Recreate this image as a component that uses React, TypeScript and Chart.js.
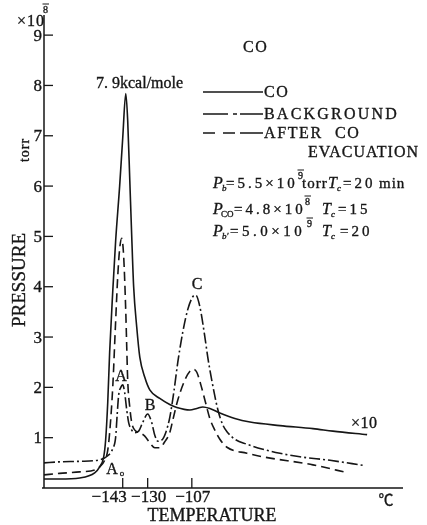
import React, { useEffect, useRef } from "react";
import { Chart, registerables } from "chart.js";

Chart.register(...registerables);

// ---- data (temperature in °C, pressure in 1e-8 torr) ----
const coTemp = [-184, -175.9, -165.4, -157.6, -155.0, -152.9, -151.9, -150.8, -149.8, -148.2, -146.7, -144.6, -143.0, -141.4, -140.4, -139.3, -138.3, -137.3, -135.7, -134.1, -131.5, -128.9, -123.7, -118.5, -114.8, -108.0, -104.4, -101.3, -97.6, -92.4, -84.6, -76.7, -61.1, -43.9, -33.5, -15.7];
const coPressure = [0.18, 0.18, 0.2, 0.3, 0.42, 0.62, 0.95, 1.7, 2.7, 3.9, 4.9, 6.0, 6.95, 7.84, 7.3, 6.1, 5.0, 4.0, 3.2, 2.6, 2.2, 1.95, 1.78, 1.66, 1.6, 1.55, 1.58, 1.61, 1.58, 1.49, 1.38, 1.31, 1.24, 1.18, 1.13, 1.06];

const bgTemp = [-184, -175.9, -165.4, -155.0, -150.8, -148.2, -146.7, -145.9, -145.1, -144.0, -143.0, -142.0, -140.9, -139.9, -138.3, -136.7, -134.7, -132.6, -130.0, -127.9, -126.3, -124.7, -122.7, -120.6, -118.5, -116.4, -114.3, -111.7, -109.1, -106.5, -104.9, -102.8, -100.2, -98.7, -96.6, -93.4, -90.8, -88.7, -84.6, -78.3, -70.0, -61.1, -50.7, -35.0, -17.8];
const bgPressure = [0.5, 0.52, 0.53, 0.56, 0.64, 0.78, 1.0, 1.45, 1.85, 2.0, 2.05, 1.9, 1.55, 1.3, 1.15, 1.1, 1.13, 1.3, 1.47, 1.3, 1.05, 0.93, 0.95, 1.1, 1.4, 1.9, 2.5, 3.1, 3.55, 3.8, 3.83, 3.6, 3.0, 2.6, 2.14, 1.55, 1.25, 1.12, 0.97, 0.87, 0.77, 0.69, 0.62, 0.55, 0.45];

const afterTemp = [-184, -175.9, -165.4, -157.6, -155.0, -152.4, -150.8, -149.8, -148.2, -146.7, -145.6, -144.6, -143.5, -142.5, -141.4, -140.9, -140.4, -139.3, -138.3, -136.7, -134.1, -131.5, -128.9, -126.3, -123.7, -121.1, -118.5, -116.9, -114.3, -110.7, -108.0, -106.0, -104.4, -102.3, -100.2, -97.6, -95.0, -92.4, -88.7, -78.3, -70.0, -43.9, -25.6];
const afterPressure = [0.26, 0.29, 0.32, 0.36, 0.42, 0.55, 0.75, 1.1, 2.0, 3.3, 4.2, 4.75, 4.96, 4.6, 3.5, 2.8, 2.14, 1.6, 1.3, 1.15, 1.1, 1.03, 0.9, 0.8, 0.8, 0.92, 1.1, 1.35, 1.75, 2.14, 2.32, 2.36, 2.3, 2.05, 1.75, 1.38, 1.15, 0.97, 0.81, 0.69, 0.62, 0.46, 0.3];

const yTicks = [1, 2, 3, 4, 5, 6, 7, 8, 9];
const xTicks = [-143, -130, -107];
const xTickLabels = ["−143", "−130", "−107"];
const seriesNames = ["CO", "BACKGROUND", "AFTER", "CO", "EVACUATION"];

const SERIF = '"Liberation Serif", "DejaVu Serif", serif';
const INK = "#161616";

function pts(t: number[], p: number[]) {
  return t.map((x, i) => ({ x, y: p[i] }));
}

function txt(ctx: CanvasRenderingContext2D, s: string, x: number, y: number, size: number, o: any = {}) {
  ctx.font = `${o.italic ? "italic " : ""}${size}px ${o.family || SERIF}`;
  ctx.textAlign = o.align || "left";
  ctx.textBaseline = o.baseline || "alphabetic";
  (ctx as any).letterSpacing = `${o.sp || 0}px`;
  ctx.fillText(s, x, y);
  // light stroke to imitate the heavier printed type
  ctx.lineWidth = 0.35;
  ctx.strokeText(s, x, y);
  (ctx as any).letterSpacing = "0px";
}

// superscript with an over-bar (old notation for a negative exponent)
function barExp(ctx: CanvasRenderingContext2D, d: string, x: number, y: number) {
  txt(ctx, d, x, y, 10);
  ctx.beginPath();
  ctx.lineWidth = 1;
  ctx.moveTo(x - 0.5, y - 9);
  ctx.lineTo(x + 6, y - 9);
  ctx.stroke();
}

const overlay = {
  id: "overlay",
  afterDraw(chart: any) {
    const ctx: CanvasRenderingContext2D = chart.ctx;
    const ca = chart.chartArea;
    const xs = chart.scales.x;
    const ys = chart.scales.y;
    ctx.save();
    ctx.fillStyle = INK;
    ctx.strokeStyle = INK;
    ctx.setLineDash([]);

    // axes
    ctx.lineWidth = 1.5;
    ctx.beginPath();
    ctx.moveTo(ca.left, ca.top);
    ctx.lineTo(ca.left, ca.bottom);
    ctx.moveTo(ca.left - 2, ca.bottom);
    ctx.lineTo(ca.right, ca.bottom);
    ctx.stroke();

    // y ticks (inward)
    yTicks.forEach((v) => {
      const py = ys.getPixelForValue(v);
      ctx.lineWidth = 1.3;
      ctx.beginPath();
      ctx.moveTo(ca.left, py);
      ctx.lineTo(ca.left + 9, py);
      ctx.stroke();
      txt(ctx, String(v), ca.left - 2, py + 1, 17, { align: "right", baseline: "middle" });
    });

    // x ticks (inward)
    xTicks.forEach((v, i) => {
      const px = xs.getPixelForValue(v);
      ctx.lineWidth = 1.3;
      ctx.beginPath();
      ctx.moveTo(px, ca.bottom);
      ctx.lineTo(px, ca.bottom - 10);
      ctx.stroke();
      if (i === 0) txt(ctx, xTickLabels[i], px + 4, ca.bottom + 10, 17, { align: "right", baseline: "middle" });
      else txt(ctx, xTickLabels[i], px + 1, ca.bottom + 10, 17, { align: "center", baseline: "middle" });
    });

    // unit / axis titles
    txt(ctx, "×10", 17, 26, 16, { sp: 1 });
    barExp(ctx, "8", 43, 13);
    txt(ctx, "℃", 386, ca.bottom + 11, 15, { align: "center", baseline: "middle", family: '"Noto Sans CJK JP", ' + SERIF });
    txt(ctx, "TEMPERATURE", 212, 516, 18, { align: "center", baseline: "middle" });

    ctx.save();
    ctx.translate(20, 280);
    ctx.rotate(-Math.PI / 2);
    txt(ctx, "PRESSURE", 0, 0, 19, { align: "center", baseline: "middle" });
    ctx.restore();
    ctx.save();
    ctx.translate(25, 150);
    ctx.rotate(-Math.PI / 2);
    txt(ctx, "torr", 0, 0, 14, { align: "center", baseline: "middle", sp: 1 });
    ctx.restore();

    // title and peak annotation
    txt(ctx, "CO", 243, 52, 16, { sp: 1.5 });
    txt(ctx, "7. 9kcal/mole", 96, 88, 16, { sp: 0 });

    // legend
    ctx.lineWidth = 1.6;
    const lx0 = 203, lx1 = 263;
    ctx.setLineDash([]);
    ctx.beginPath(); ctx.moveTo(lx0, 92); ctx.lineTo(lx1, 92); ctx.stroke();
    ctx.setLineDash([25, 5, 4, 3, 23]);
    ctx.beginPath(); ctx.moveTo(lx0, 114); ctx.lineTo(lx1, 114); ctx.stroke();
    ctx.setLineDash([12, 8, 12, 5, 23]);
    ctx.beginPath(); ctx.moveTo(lx0, 133); ctx.lineTo(lx1, 133); ctx.stroke();
    ctx.setLineDash([]);
    txt(ctx, seriesNames[0], 264, 97, 16, { sp: 1.5 });
    txt(ctx, seriesNames[1], 264, 119, 16, { sp: 2.2 });
    txt(ctx, seriesNames[2], 264, 138, 16, { sp: 1.6 });
    txt(ctx, seriesNames[3], 335, 138, 16, { sp: 1.5 });
    txt(ctx, seriesNames[4], 308, 157, 16, { sp: 1 });

    // measurement conditions
    // line 1
    txt(ctx, "P", 213, 188, 16, { italic: true });
    txt(ctx, "b", 222, 191, 9, { italic: true });
    txt(ctx, "=5.5×10", 226, 188, 15, { sp: 3 });
    barExp(ctx, "9", 298, 179);
    txt(ctx, "torr", 302, 188, 15, { sp: 1 });
    txt(ctx, "T", 328, 188, 16, { italic: true });
    txt(ctx, "c", 337, 191, 9, { italic: true });
    txt(ctx, "=20", 343, 188, 15, { sp: 3 });
    txt(ctx, "min", 379, 188, 15, { sp: 1 });
    // line 2
    txt(ctx, "P", 213, 214, 16, { italic: true });
    txt(ctx, "CO", 221, 217, 9);
    txt(ctx, "=4.8×10", 234, 214, 15, { sp: 3 });
    barExp(ctx, "8", 305, 205);
    txt(ctx, "T", 322, 214, 16, { italic: true });
    txt(ctx, "c", 331, 217, 9, { italic: true });
    txt(ctx, "=15", 338, 214, 15, { sp: 3 });
    // line 3
    txt(ctx, "P", 213, 236, 16, { italic: true });
    txt(ctx, "b′", 222, 239, 9, { italic: true });
    txt(ctx, "=5.0×10", 230, 236, 15, { sp: 3.5 });
    barExp(ctx, "9", 307, 227);
    txt(ctx, "T", 322, 236, 16, { italic: true });
    txt(ctx, "c", 331, 239, 9, { italic: true });
    txt(ctx, "=20", 340, 236, 15, { sp: 3 });

    // peak labels
    txt(ctx, "C", 197, 285, 16, { align: "center", baseline: "middle" });
    txt(ctx, "A", 121, 377, 16, { align: "center", baseline: "middle" });
    txt(ctx, "B", 150, 406, 16, { align: "center", baseline: "middle" });
    txt(ctx, "A", 112, 470, 16, { align: "center", baseline: "middle" });
    txt(ctx, "o", 122, 474, 9, { align: "center", baseline: "middle" });
    txt(ctx, "×10", 351, 428, 16, { sp: 0.5 });

    ctx.restore();
  },
};

export default function App() {
  const ref = useRef<HTMLCanvasElement | null>(null);
  useEffect(() => {
    if (!ref.current) return;
    const common = {
      borderColor: INK,
      borderWidth: 1.6,
      pointRadius: 0,
      fill: false,
      cubicInterpolationMode: "monotone" as const,
    };
    const chart = new Chart(ref.current, {
      type: "line",
      data: {
        datasets: [
          { ...common, label: seriesNames[0], data: pts(coTemp, coPressure) },
          { ...common, label: seriesNames[1], data: pts(bgTemp, bgPressure), borderDash: [11, 3, 2, 3] },
          { ...common, label: "AFTER CO EVACUATION", data: pts(afterTemp, afterPressure), borderDash: [9, 5] },
        ],
      },
      options: {
        animation: false,
        responsive: false,
        maintainAspectRatio: false,
        devicePixelRatio: 1,
        layout: { padding: { left: 44, right: 24, top: 15, bottom: 37 } },
        plugins: { legend: { display: false }, tooltip: { enabled: false } },
        scales: {
          x: { type: "linear", min: -184, max: 3, display: false },
          y: { type: "linear", min: 0, max: 9.4, display: false },
        },
      },
      plugins: [overlay],
    });
    return () => chart.destroy();
  }, []);
  return (
    <div style={{ position: "fixed", left: 0, top: 0, width: 427, height: 525, background: "#fff" }}>
      <canvas ref={ref} width={427} height={525} style={{ display: "block" }} />
    </div>
  );
}
